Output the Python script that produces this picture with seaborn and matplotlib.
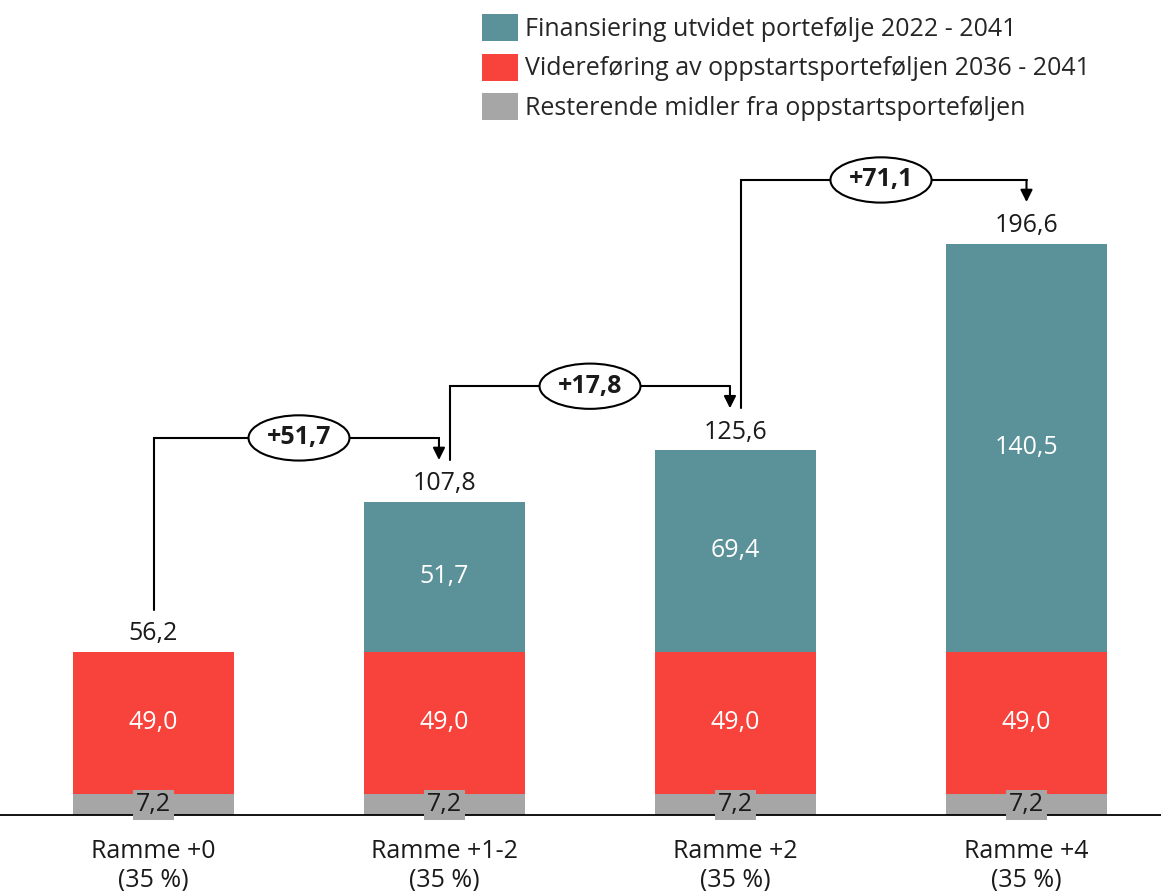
import pandas as pd
import seaborn as sns
import matplotlib.pyplot as plt
from matplotlib.patches import Patch

# data
categories = ["Ramme +0\n(35 %)", "Ramme +1-2\n(35 %)", "Ramme +2\n(35 %)", "Ramme +4\n(35 %)"]
rest = [7.2, 7.2, 7.2, 7.2]
videre = [49.0, 49.0, 49.0, 49.0]
utvidet = [0.0, 51.7, 69.4, 140.5]
totals = [56.2, 107.8, 125.6, 196.6]
increments = ["+51,7", "+17,8", "+71,1"]

legend_labels = ["Finansiering utvidet portefølje 2022 - 2041",
                 "Videreføring av oppstartsporteføljen 2036 - 2041",
                 "Resterende midler fra oppstartsporteføljen"]

c_teal = "#5B9299"
c_red = "#F7433C"
c_grey = "#A6A6A6"

sns.set_theme(style="white")
plt.rcParams["font.family"] = ["Open Sans", "DejaVu Sans"]
FS = 18


def fmt(v):
    return f"{v:.1f}".replace(".", ",")


df = pd.DataFrame({"kat": categories, "rest": rest, "videre": videre, "utvidet": utvidet})
df["b_videre"] = df["rest"]
df["b_utvidet"] = df["rest"] + df["videre"]

fig = plt.figure(figsize=(11.61, 8.91), dpi=100)
ax = fig.add_axes([0, 76 / 891, 1, 815 / 891])

W = 0.553
kw = dict(width=W, saturation=1, linewidth=0, edgecolor="none", ax=ax)
sns.barplot(data=df, x="kat", y="rest", color=c_grey, **kw)
sns.barplot(data=df, x="kat", y="videre", bottom=df["b_videre"], color=c_red, **kw)
sns.barplot(data=df, x="kat", y="utvidet", bottom=df["b_utvidet"], color=c_teal, **kw)

for i in range(len(categories)):
    ax.text(i, rest[i] / 2, fmt(rest[i]), ha="center", va="center", fontsize=FS, color="#1a1a1a",
            bbox=dict(boxstyle="square,pad=0.1", fc=c_grey, ec="none"), zorder=5)
    ax.text(i, rest[i] + videre[i] / 2, fmt(videre[i]), ha="center", va="center", fontsize=FS, color="white")
    if utvidet[i] > 0:
        ax.text(i, rest[i] + videre[i] + utvidet[i] / 2, fmt(utvidet[i]), ha="center", va="center",
                fontsize=FS, color="white")
    ax.text(i, totals[i] + 6.2, fmt(totals[i]), ha="center", va="center", fontsize=FS, color="#1a1a1a")

# connectors between bars
off = 0.019
for i in range(len(increments)):
    x0 = i + (off if i > 0 else 0)
    x1 = i + 1 - (off if i + 1 < len(increments) else 0)
    y0 = totals[i] + 14.4
    yh = totals[i + 1] + 22.0
    y1 = totals[i + 1] + 14.4
    ax.plot([x0, x0, x1], [y0, yh, yh], color="black", lw=1.5, solid_joinstyle="miter")
    ax.annotate("", xy=(x1, y1), xytext=(x1, yh),
                arrowprops=dict(arrowstyle="-|>,head_length=0.6,head_width=0.3", color="black", lw=1.5,
                                shrinkA=0, shrinkB=0))
    ax.text(i + 0.5, yh, increments[i], ha="center", va="center", fontsize=FS, fontweight="bold",
            color="#1a1a1a", bbox=dict(boxstyle="ellipse,pad=0.14", fc="white", ec="black", lw=1.5), zorder=6)

ax.set_xlim(-153.5 / 291, (1161 - 153.5) / 291)
ax.set_ylim(0, 815 / 2.905)
ax.set_xlabel("")
ax.set_ylabel("")
ax.set_yticks([])
ax.tick_params(axis="x", length=0, pad=17, labelsize=FS, labelcolor="#1a1a1a")
for s in ["top", "right", "left"]:
    ax.spines[s].set_visible(False)
ax.spines["bottom"].set_color("black")
ax.spines["bottom"].set_linewidth(1.3)
ax.patch.set_alpha(0)

handles = [Patch(facecolor=c, edgecolor="none") for c in [c_teal, c_red, c_grey]]
fig.legend(handles, legend_labels, loc="upper left", bbox_to_anchor=(468 / 1161, 1 - 0 / 891),
           frameon=False, fontsize=FS, handlelength=1.44, handleheight=1.28, handletextpad=0.3,
           labelspacing=0.48, borderpad=0.05)

fig.savefig("out.png", dpi=100)
